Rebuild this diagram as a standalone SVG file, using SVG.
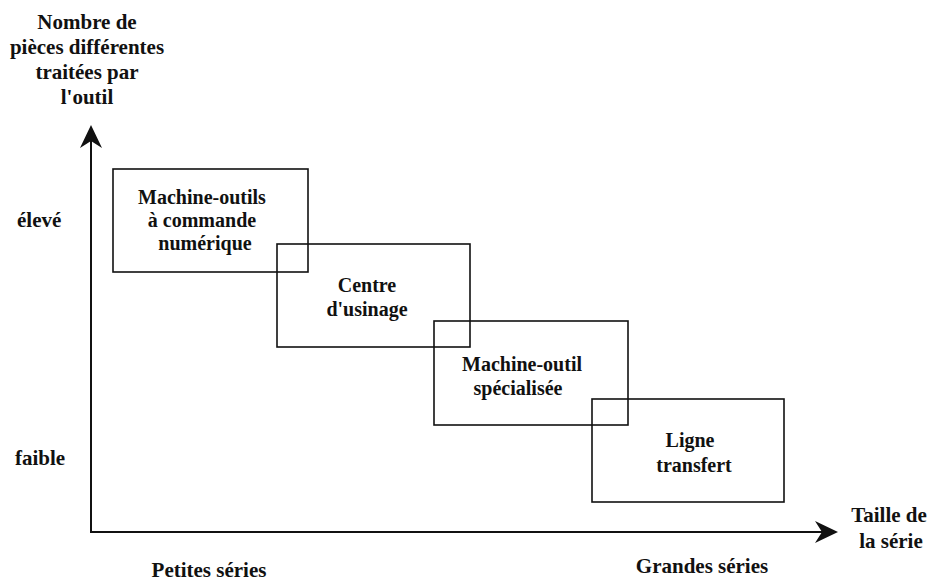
<svg xmlns="http://www.w3.org/2000/svg" width="932" height="581" viewBox="0 0 932 581">
<style>
text{font-family:'Liberation Serif','DejaVu Serif','Times New Roman',serif;font-size:21px;font-weight:bold;fill:#111;}
.c{text-anchor:middle;}
.n{font-size:20px;}
.box{fill:none;stroke:#111;stroke-width:1.6;}
.axis{stroke:#111;stroke-width:2;fill:none;}
.head{fill:#111;stroke:none;}
</style>
<rect width="932" height="581" fill="#fff"/>
<g font-family="'Liberation Serif','DejaVu Serif',serif">
<g id="y-title">
<text class="c" x="87" y="29">Nombre de</text>
<text class="c" x="87" y="54">pièces différentes</text>
<text class="c" x="87" y="79">traitées par</text>
<text class="c" x="87" y="104">l'outil</text>
</g>
<g id="connectors">
<line class="axis" x1="91" y1="533" x2="91" y2="135"/>
<path class="head" d="M91,125 L80,148 L91,141 L102,148 Z"/>
<line class="axis" x1="90" y1="532" x2="828" y2="532"/>
<path class="head" d="M838,532 L815,521 L822,532 L815,543 Z"/>
</g>
<g id="y-labels">
<text x="17" y="227">élevé</text>
<text x="15" y="465">faible</text>
</g>
<g id="node-cn">
<rect class="box" x="113" y="169" width="195" height="103"/>
<text class="c n" x="202" y="204">Machine-outils</text>
<text class="c n" x="202" y="227">à commande</text>
<text class="c n" x="205" y="250">numérique</text>
</g>
<g id="node-centre">
<rect class="box" x="277" y="244" width="193" height="103"/>
<text class="c n" x="367" y="292">Centre</text>
<text class="c n" x="367" y="316">d'usinage</text>
</g>
<g id="node-specialisee">
<rect class="box" x="434" y="321" width="194" height="104"/>
<text class="c n" x="522" y="371">Machine-outil</text>
<text class="c n" x="518" y="395">spécialisée</text>
</g>
<g id="node-transfert">
<rect class="box" x="592" y="399" width="192" height="103"/>
<text class="c n" x="690" y="447">Ligne</text>
<text class="c n" x="694" y="472">transfert</text>
</g>
<g id="x-labels">
<text class="c" x="889" y="522">Taille de</text>
<text class="c" x="891" y="548">la série</text>
<text class="c" x="209" y="577">Petites séries</text>
<text class="c" x="702" y="573">Grandes séries</text>
</g>
</g>
</svg>
